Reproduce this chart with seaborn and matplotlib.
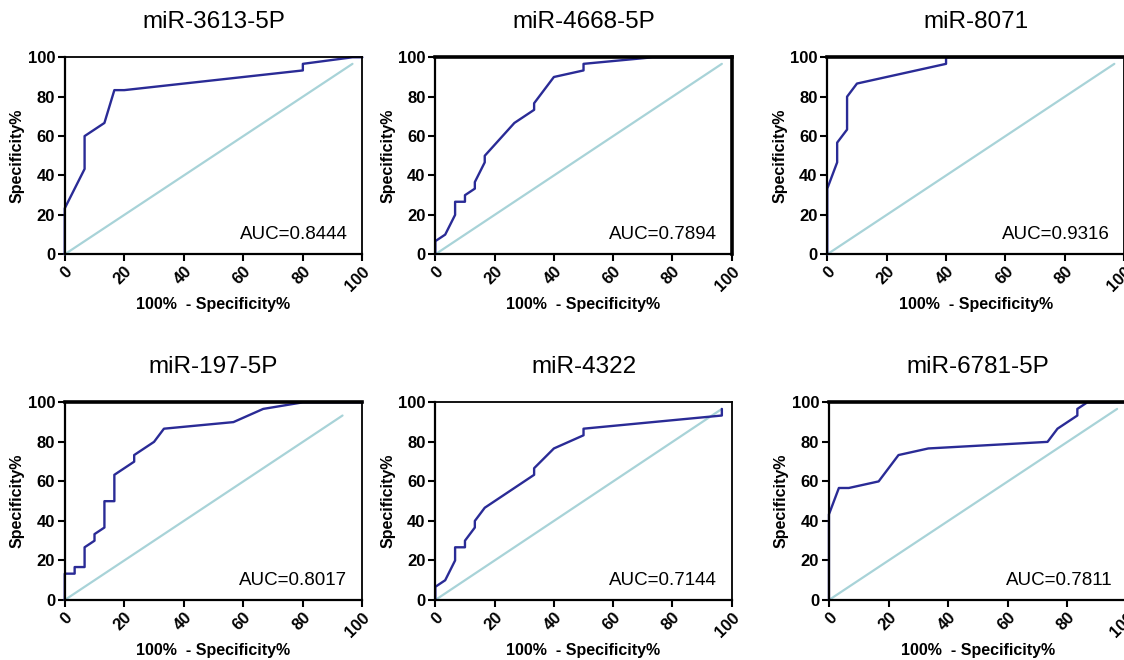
import matplotlib
matplotlib.use("Agg")
import matplotlib.pyplot as plt
import seaborn as sns

# panel titles and AUC values
titles = ["miR-3613-5P", "miR-4668-5P", "miR-8071",
          "miR-197-5P", "miR-4322", "miR-6781-5P"]
auc = ["0.8444", "0.7894", "0.9316", "0.8017", "0.7144", "0.7811"]

# ROC curves (100% - specificity, specificity)
x_3613 = [0, 0, 6.67, 6.67, 13.33, 16.67, 20, 80, 80, 96.67, 100]
y_3613 = [0, 23.33, 43.33, 60, 66.67, 83.33, 83.33, 93.33, 96.67, 100, 100]

x_4668 = [0, 0, 3.33, 6.67, 6.67, 10, 10, 13.33, 13.33, 16.67, 16.67,
          26.67, 33.33, 33.33, 40, 50, 50, 73.33, 100]
y_4668 = [0, 6.67, 10, 20, 26.67, 26.67, 30, 33.33, 36.67, 46.67, 50,
          66.67, 73.33, 76.67, 90, 93.33, 96.67, 100, 100]

x_8071 = [0, 0, 3.33, 3.33, 6.67, 6.67, 10, 40, 40, 100]
y_8071 = [0, 33.33, 46.67, 56.67, 63.33, 80, 86.67, 96.67, 100, 100]

x_197 = [0, 0, 3.33, 3.33, 6.67, 6.67, 10, 10, 13.33, 13.33, 16.67, 16.67,
         23.33, 23.33, 30, 33.33, 56.67, 66.67, 80, 100]
y_197 = [0, 13.33, 13.33, 16.67, 16.67, 26.67, 30, 33.33, 36.67, 50, 50,
         63.33, 70, 73.33, 80, 86.67, 90, 96.67, 100, 100]

x_4322 = [0, 0, 3.33, 6.67, 6.67, 10, 10, 13.33, 13.33, 16.67, 33.33,
          33.33, 40, 50, 50, 96.67, 96.67]
y_4322 = [0, 6.67, 10, 20, 26.67, 26.67, 30, 36.67, 40, 46.67, 63.33,
          66.67, 76.67, 83.33, 86.67, 93.33, 96.67]

x_6781 = [0, 0, 3.33, 6.67, 16.67, 23.33, 33.33, 73.33, 76.67, 83.33,
          83.33, 86.67, 100]
y_6781 = [0, 43.33, 56.67, 56.67, 60, 73.33, 76.67, 80, 86.67, 93.33,
          96.67, 100, 100]

curves_x = [x_3613, x_4668, x_8071, x_197, x_4322, x_6781]
curves_y = [y_3613, y_4668, y_8071, y_197, y_4322, y_6781]

# end of the reference (chance) line in each panel
diag_end = [96.67, 96.67, 96.67, 93.33, 96.67, 96.67]

sns.set_style("ticks")
plt.rcParams['font.family'] = ['Liberation Sans', 'DejaVu Sans']
plt.rcParams['text.color'] = 'black'
plt.rcParams['axes.labelcolor'] = 'black'
plt.rcParams['xtick.color'] = 'black'
plt.rcParams['ytick.color'] = 'black'
plt.rcParams['axes.edgecolor'] = 'black'

fig = plt.figure(figsize=(11.24, 6.6), dpi=100)

rects = [[0.0576, 0.6147, 0.2648, 0.2985],
         [0.3873, 0.6147, 0.2637, 0.2985],
         [0.7360, 0.6147, 0.2642, 0.2985],
         [0.0576, 0.0909, 0.2648, 0.2995],
         [0.3873, 0.0909, 0.2637, 0.2995],
         [0.7375, 0.0909, 0.2652, 0.2995]]
top_width = [1.3, 2.6, 2.6, 2.6, 1.3, 2.6]

for i in range(6):
    ax = fig.add_axes(rects[i])
    sns.lineplot(x=[0, diag_end[i]], y=[0, diag_end[i]], color="#a8d3d8",
                 lw=1.6, ax=ax, sort=False, estimator=None, clip_on=False)
    sns.lineplot(x=curves_x[i], y=curves_y[i], color="#2a2b96", lw=1.7,
                 ax=ax, sort=False, estimator=None, clip_on=False)
    ax.set_xlim(0, 100)
    ax.set_ylim(0, 100)
    ax.set_xticks([0, 20, 40, 60, 80, 100])
    ax.set_yticks([0, 20, 40, 60, 80, 100])
    for sp in ['left', 'bottom']:
        ax.spines[sp].set_linewidth(1.6)
    ax.spines['top'].set_linewidth(top_width[i])
    ax.spines['right'].set_linewidth(top_width[i] if i == 1 else 1.3)
    ax.spines['top'].set_visible(True)
    ax.spines['right'].set_visible(True)
    ax.tick_params(direction='out', length=5, width=1.5, labelsize=12,
                   pad=2)
    for lab in ax.get_xticklabels():
        lab.set_rotation(45)
        lab.set_ha('right')
        lab.set_va('top')
        lab.set_rotation_mode('anchor')
        lab.set_fontweight('bold')
    for lab in ax.get_yticklabels():
        lab.set_fontweight('bold')
    ax.set_xlabel("100%  - Specificity%", fontsize=11.5, fontweight='bold',
                  labelpad=2)
    ax.set_ylabel("Specificity%", fontsize=11.5, fontweight='bold',
                  labelpad=2)
    ax.set_title(titles[i], fontsize=17.5, pad=21)
    ax.text(95, 10, "AUC=" + auc[i], fontsize=13.5, ha='right', va='center')

fig.savefig("out.png", dpi=100)
